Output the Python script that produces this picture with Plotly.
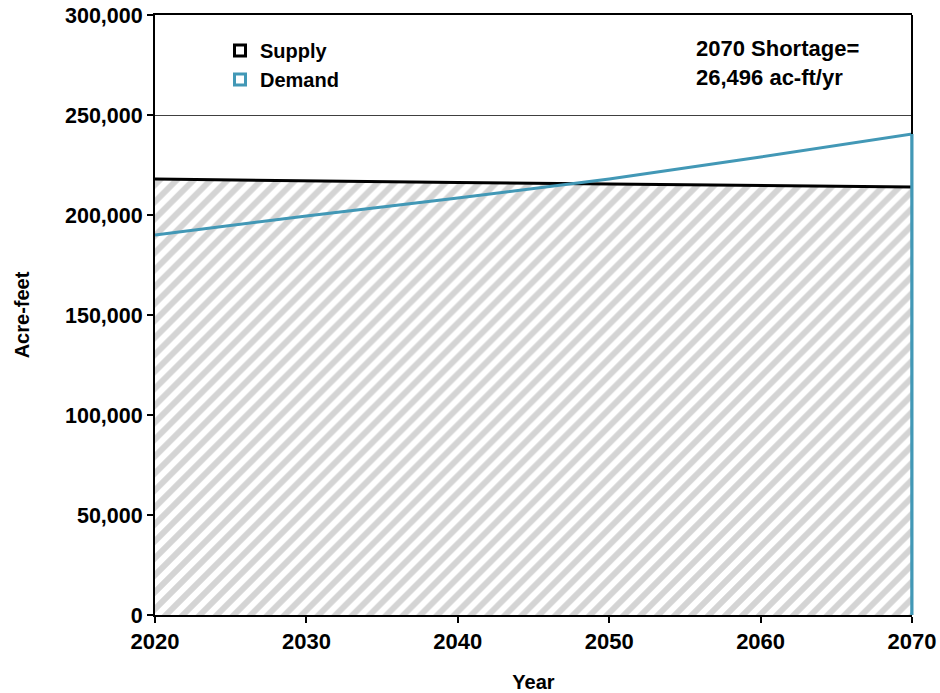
import plotly.graph_objects as go

years = [2020, 2030, 2040, 2050, 2060, 2070]
supply = [218000, 217000, 216200, 215500, 214700, 214000]
demand = [190000, 199500, 208500, 218000, 229000, 240496]
x_ticks = [2020, 2030, 2040, 2050, 2060, 2070]
y_max = 300000
shortage_text = "<b>2070 Shortage=<br>26,496 ac-ft/yr</b>"

BLACK = "#000000"
BLUE = "#4298b6"
FONT = "Liberation Sans, Arial, sans-serif"

# plot-area geometry (pixels)
L, R, T, B = 155, 912, 15, 615
W, H = R - L, B - T


def px_x(p):
    return (p - L) / W


def px_y(p):
    return 1 - (p - T) / H


fig = go.Figure()

# Supply: hatched area under the line
fig.add_trace(go.Scatter(
    x=years, y=supply, mode="lines",
    line=dict(color=BLACK, width=3),
    fill="tozeroy",
    fillpattern=dict(shape="/", fgcolor="#a9a9a9", bgcolor="white",
                     size=12, solidity=0.5),
    showlegend=False, hoverinfo="skip",
))

# Demand: line with vertical drop at the end
fig.add_trace(go.Scatter(
    x=years + [years[-1]], y=demand + [0], mode="lines",
    line=dict(color=BLUE, width=3),
    showlegend=False, hoverinfo="skip",
))

# Legend entries (square-open markers)
fig.add_trace(go.Scatter(
    x=[None], y=[None], mode="markers", name="<b>Supply</b>",
    marker=dict(symbol="square-open", size=11, color=BLACK, line=dict(width=3, color=BLACK)),
))
fig.add_trace(go.Scatter(
    x=[None], y=[None], mode="markers", name="<b>Demand</b>",
    marker=dict(symbol="square-open", size=11, color=BLUE, line=dict(width=3, color=BLUE)),
))

# right frame: blue where demand drops to zero, black above it
fig.add_shape(type="line", xref="paper", yref="y", x0=1, x1=1,
              y0=0, y1=demand[-1], line=dict(color=BLUE, width=3), layer="above")
fig.add_shape(type="line", xref="paper", yref="y", x0=1, x1=1,
              y0=demand[-1], y1=y_max, line=dict(color=BLACK, width=2), layer="above")

fig.add_annotation(
    x=px_x(694), y=px_y(34), xref="paper", yref="paper", text=shortage_text,
    showarrow=False, align="left", xanchor="left", yanchor="top",
    font=dict(family=FONT, size=22, color=BLACK),
)

fig.update_layout(
    width=940, height=693,
    margin=dict(l=L, r=940 - R, t=T, b=693 - B),
    paper_bgcolor="white", plot_bgcolor="white",
    font=dict(family=FONT, size=20, color=BLACK),
    showlegend=True,
    legend=dict(
        x=px_x(220), y=px_y(31),
        xanchor="left", yanchor="top",
        bgcolor="rgba(0,0,0,0)", borderwidth=0,
        font=dict(family=FONT, size=20, color=BLACK),
        itemwidth=30, tracegroupgap=0,
    ),
    xaxis=dict(
        range=[years[0], years[-1]], tickvals=x_ticks,
        ticktext=["<b>%d</b>" % v for v in x_ticks],
        showgrid=False, zeroline=False, automargin=False,
        showline=True, linecolor=BLACK, linewidth=2, mirror=True,
        ticks="outside", ticklen=6, tickwidth=2, tickcolor=BLACK,
        tickfont=dict(family=FONT, size=22, color=BLACK),
        title=dict(text="<b>Year</b>", font=dict(family=FONT, size=20, color=BLACK), standoff=25),
    ),
    yaxis=dict(
        range=[0, y_max], dtick=50000, tickformat=",",
        tickprefix="<b>", ticksuffix="</b>",
        showgrid=True, gridcolor="#404040", gridwidth=1, zeroline=False, automargin=False,
        showline=True, linecolor=BLACK, linewidth=2, mirror=False,
        ticks="outside", ticklen=6, tickwidth=2, tickcolor=BLACK,
        tickfont=dict(family=FONT, size=21.5, color=BLACK),
        title=dict(text="<b>Acre-feet</b>", font=dict(family=FONT, size=20, color=BLACK), standoff=30),
    ),
)

fig.write_html("out.html")
